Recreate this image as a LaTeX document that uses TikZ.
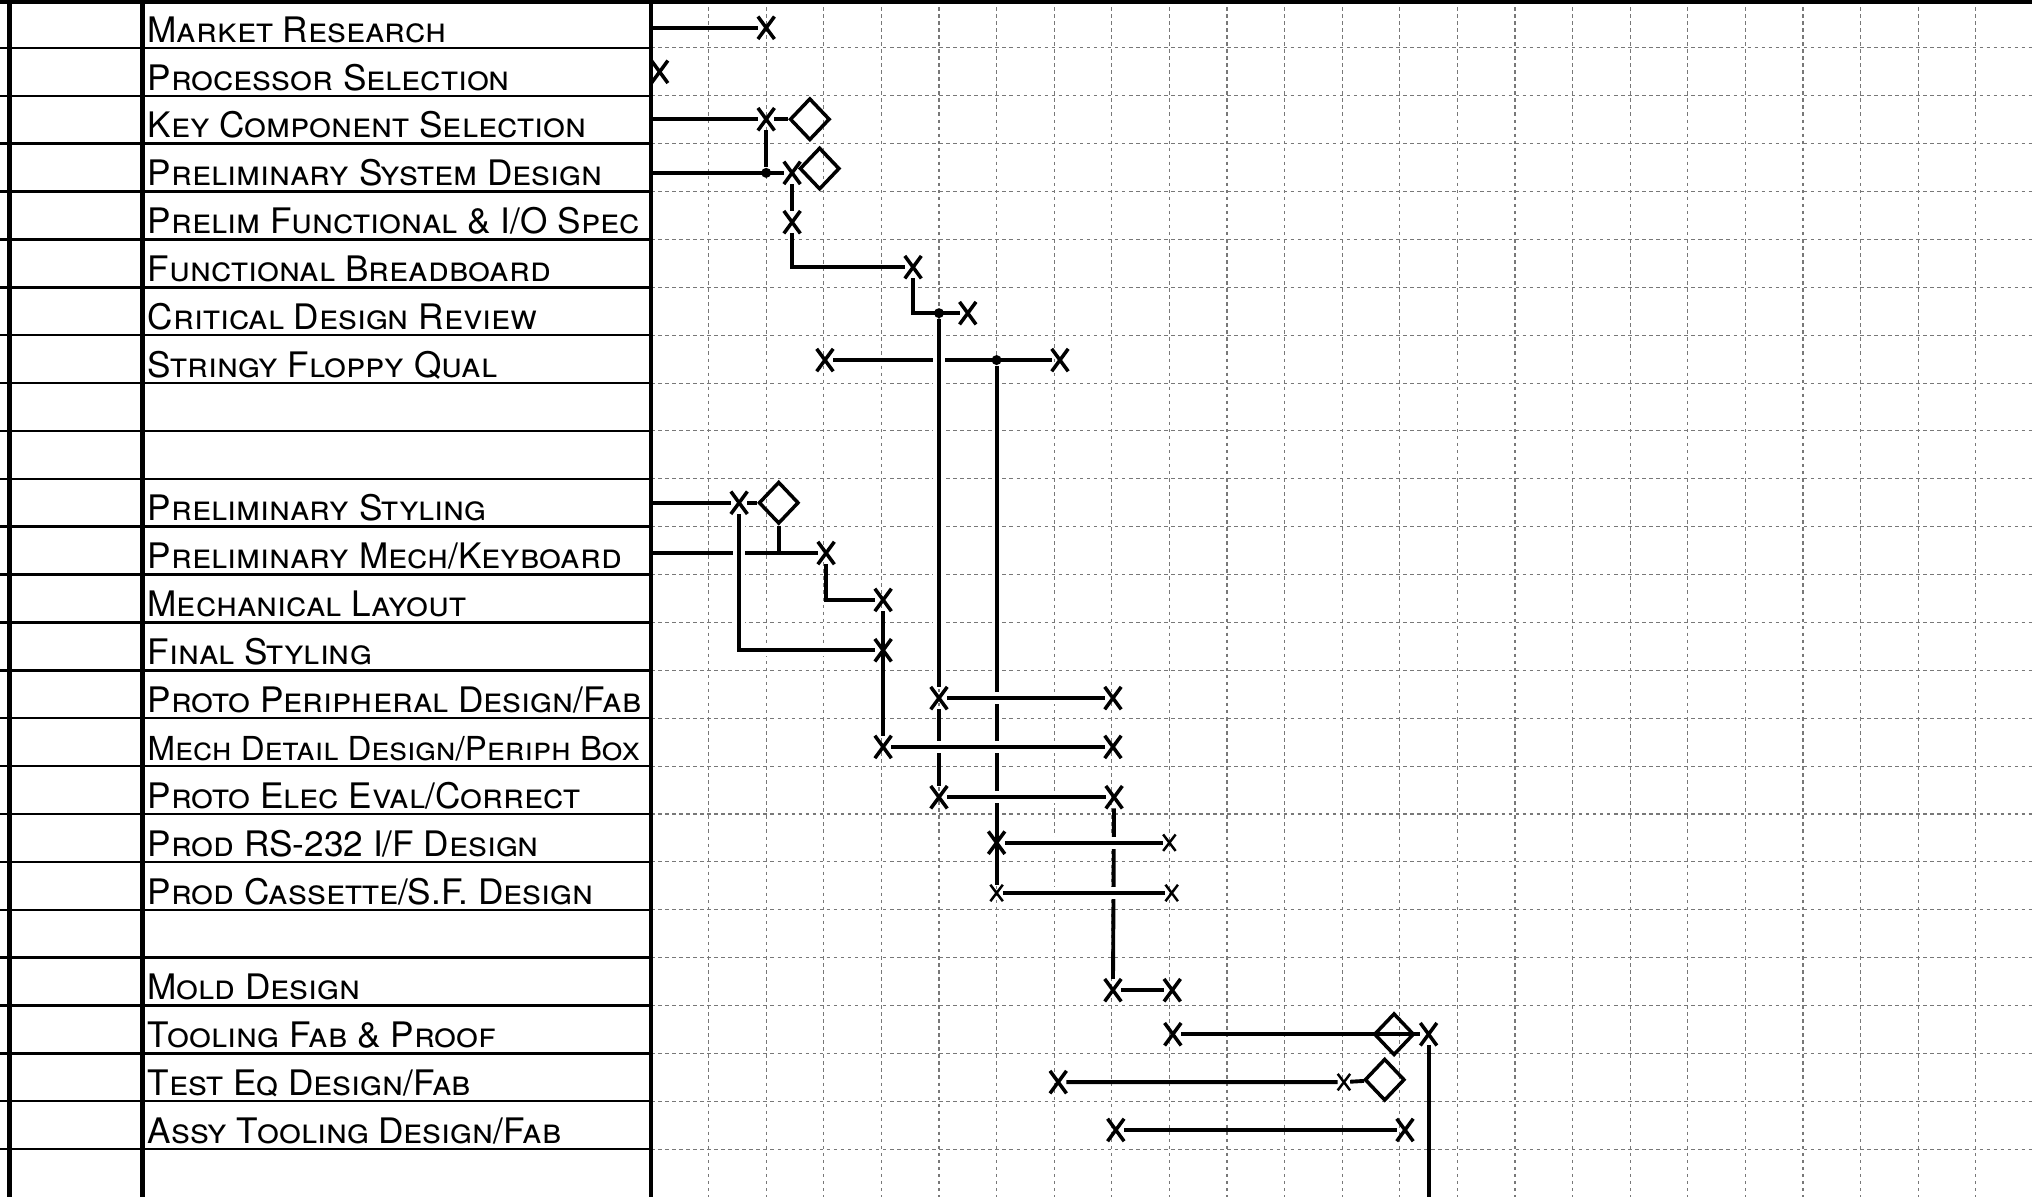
\documentclass[tikz,border=0pt]{standalone}
\usepackage{fontspec}
\setmainfont{TeX Gyre Heros}
\usetikzlibrary{shapes.geometric,shapes.misc}
\definecolor{gridcolor}{RGB}{120,120,120}

\begin{document}
\begin{tikzpicture}[
    x=5.76mm, y=-4.788mm,
    task/.style={anchor=base west, inner sep=0pt, font=\fontsize{10}{12}\selectfont\scshape},
    xpt/.style={cross out, draw, line width=1pt, minimum width=1.3mm, minimum height=1.9mm, inner sep=0pt},
    xsmall/.style={xpt, line width=0.7pt, minimum width=1mm, minimum height=1.4mm},
    milestone/.style={diamond, draw, line width=1pt, minimum width=4mm, minimum height=4.2mm, inner sep=0pt},
    joint/.style={circle, fill, inner sep=0pt, minimum size=1mm},
    bar/.style={line width=1.1pt},
    overbar/.style={bar, preaction={draw=white, line width=3.5pt}},
    hline/.style={line width=0.7pt},
    divider/.style={line width=1.4pt},
    gridline/.style={gridcolor, line width=0.3pt, dash pattern=on 1pt off 1pt}
]
\useasboundingbox (-11.302,0) rectangle (23.976,25);

% sheet
\foreach \c in {1,...,23} \draw[gridline] (\c,0) -- (\c,25);
\foreach \r in {1,...,24} \draw[gridline] (0,\r) -- (23.976,\r);
\foreach \r in {1,...,24} \draw[hline] (-11.302,\r) -- (0,\r);
\draw[divider] (-11.13,0) -- (-11.13,25);
\draw[divider] (-8.82,0) -- (-8.82,25);
\draw[divider] (0,0) -- (0,25);
\draw[divider] (-11.302,0.03) -- (23.976,0.03);

% tasks
\node[task] (t1) at (-8.75,0.88) {Market Research};
\node[task] (t2) at (-8.75,1.88) {Processor Selection};
\node[task] (t3) at (-8.75,2.88) {Key Component Selection};
\node[task] (t4) at (-8.75,3.88) {Preliminary System Design};
\node[task] (t5) at (-8.75,4.88) {Prelim Functional \& I/O Spec};
\node[task] (t6) at (-8.75,5.88) {Functional Breadboard};
\node[task] (t7) at (-8.75,6.88) {Critical Design Review};
\node[task] (t8) at (-8.75,7.88) {Stringy Floppy Qual};
\node[task] (t11) at (-8.75,10.88) {Preliminary Styling};
\node[task] (t12) at (-8.75,11.88) {Preliminary Mech/Keyboard};
\node[task] (t13) at (-8.75,12.88) {Mechanical Layout};
\node[task] (t14) at (-8.75,13.88) {Final Styling};
\node[task] (t15) at (-8.75,14.88) {Proto Peripheral Design/Fab};
\node[task, font=\fontsize{9.4}{11}\selectfont\scshape] (t16) at (-8.75,15.88) {Mech Detail Design/Periph Box};
\node[task] (t17) at (-8.75,16.88) {Proto Elec Eval/Correct};
\node[task] (t18) at (-8.75,17.88) {Prod RS-232 I/F Design};
\node[task] (t19) at (-8.75,18.88) {Prod Cassette/S.F. Design};
\node[task] (t21) at (-8.75,20.88) {Mold Design};
\node[task] (t22) at (-8.75,21.88) {Tooling Fab \& Proof};
\node[task] (t23) at (-8.75,22.88) {Test Eq Design/Fab};
\node[task] (t24) at (-8.75,23.88) {Assy Tooling Design/Fab};

% events
\coordinate (mr0) at (0,0.58);
\node[xpt] (mr) at (2,0.58) {};
\node[xpt] (ps) at (0.15,1.5) {};
\coordinate (kc0) at (0,2.49);
\node[xpt] (kc) at (2,2.49) {};
\node[milestone, anchor=west] (kcm) at (2.38,2.49) {};
\coordinate (sd0) at (0,3.61);
\node[joint] (sdj) at (2,3.61) {};
\node[xpt] (sd) at (2.45,3.61) {};
\node[milestone, anchor=west] (sdm) at (2.55,3.52) {};
\node[xpt] (fs) at (2.45,4.64) {};
\node[xpt] (fb) at (4.55,5.58) {};
\node[joint] (cdj) at (5,6.54) {};
\node[xpt] (cd) at (5.5,6.54) {};
\node[xpt] (sf1) at (3.02,7.52) {};
\node[joint] (sfj) at (6,7.52) {};
\node[xpt] (sf2) at (7.1,7.52) {};

\coordinate (st0) at (0,10.5);
\node[xpt] (st) at (1.53,10.5) {};
\node[milestone, anchor=west] (stm) at (1.84,10.5) {};
\coordinate (mk0) at (0,11.55);
\node[xpt] (mk) at (3.04,11.55) {};
\coordinate (mkj) at (stm |- mk);
\node[xpt] (ml) at (4.03,12.53) {};
\node[xpt] (fst) at (4.03,13.58) {};
\node[xpt] (pp1) at (5,14.58) {};
\node[xpt] (pp2) at (8.02,14.58) {};
\node[xpt] (md1) at (4.03,15.6) {};
\node[xpt] (md2) at (8.02,15.6) {};
\node[xpt] (pe1) at (5,16.65) {};
\node[xpt] (pe2) at (8.04,16.65) {};
\node[xpt] (rs1) at (6,17.6) {};
\node[xsmall] (rs2) at (9,17.6) {};
\node[xsmall] (cs1) at (6,18.65) {};
\node[xsmall] (cs2) at (9.04,18.65) {};
\node[xpt] (mo1) at (8.02,20.68) {};
\node[xpt] (mo2) at (9.05,20.68) {};
\node[xpt] (tf1) at (9.06,21.6) {};
\node[milestone] (tfm) at (12.9,21.6) {};
\node[xpt] (tf2) at (13.5,21.6) {};
\node[xpt] (te1) at (7.07,22.6) {};
\node[xsmall] (te2) at (12.03,22.6) {};
\node[milestone, anchor=west] (tem) at (12.36,22.55) {};
\node[xpt] (at1) at (8.07,23.6) {};
\node[xpt] (at2) at (13.09,23.6) {};
\coordinate (tfend) at (13.5,25);

% links
\draw[bar] (mr0) -- (mr);
\draw[bar] (kc0) -- (kc) -- (kcm);
\draw[bar] (sd0) -- (sd);
\draw[bar] (kc) -- (sdj);
\draw[bar] (sd) -- (fs);
\draw[bar] (fs) |- (fb);
\draw[bar] (fb) |- (cd);
\draw[bar] (sf1) -- (sf2);
\draw[overbar] (cdj) -- (pp1);
\draw[bar] (pp1) -- (pe1);
\draw[bar] (sfj) -- (cs1);

\draw[bar] (st0) -- (st) -- (stm);
\draw[bar] (mk0) -- (mk);
\draw[bar] (stm) -- (mkj);
\draw[overbar] (st) |- (fst);
\draw[bar] (mk) |- (ml);
\draw[bar] (ml) -- (md1);
\draw[bar] (pe2) -- (mo1);

\draw[overbar] (pp1) -- (pp2);
\draw[overbar] (md1) -- (md2);
\draw[overbar] (pe1) -- (pe2);
\draw[overbar] (rs1) -- (rs2);
\draw[overbar] (cs1) -- (cs2);
\draw[bar] (mo1) -- (mo2);
\draw[bar] (tf1) -- (tf2);
\draw[bar] (tf2) -- (tfend);
\draw[bar] (te1) -- (te2) -- (tem);
\draw[bar] (at1) -- (at2);
\end{tikzpicture}
\end{document}
